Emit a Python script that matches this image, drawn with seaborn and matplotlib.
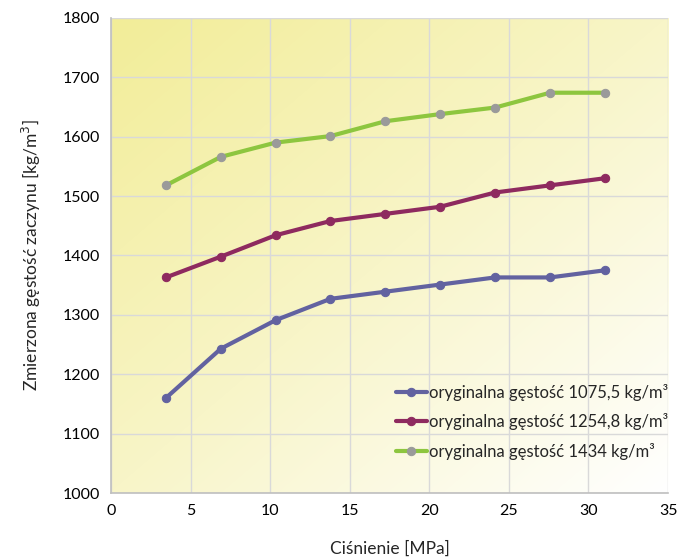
import numpy as np
import pandas as pd
import matplotlib
matplotlib.use("Agg")
import matplotlib.pyplot as plt
import seaborn as sns
from matplotlib.colors import LinearSegmentedColormap

pressure = [3.45, 6.9, 10.34, 13.79, 17.24, 20.68, 24.13, 27.58, 31.03]
dens_1075 = [1160, 1243, 1291, 1327, 1339, 1351, 1363, 1363, 1375]
dens_1254 = [1363, 1398, 1434, 1458, 1470, 1482, 1506, 1518, 1530]
dens_1434 = [1518, 1566, 1590, 1601, 1626, 1638, 1649, 1674, 1674]
labels = ["oryginalna gęstość 1075,5 kg/m³",
          "oryginalna gęstość 1254,8 kg/m³",
          "oryginalna gęstość 1434 kg/m³"]
colors = ["#6262a0", "#8e2a5f", "#8dc63f"]
marker_colors = ["#6262a0", "#8e2a5f", "#9a9a9a"]

df = pd.concat([
    pd.DataFrame({"x": pressure, "y": d, "s": lab})
    for d, lab in zip([dens_1075, dens_1254, dens_1434], labels)
])

sns.set_theme(style="white")
plt.rcParams['font.family'] = ['Lato', 'DejaVu Sans']

fig = plt.figure(figsize=(6.81, 5.59), dpi=100)
ax = fig.add_axes([0.163, 0.118, 0.818, 0.850])

# gradient background
n = 200
xx, yy = np.meshgrid(np.linspace(0, 1, n), np.linspace(0, 1, n))
t = np.clip((xx + yy) / 2.0, 0, 1)
cmap = LinearSegmentedColormap.from_list("bg", ["#f2ed98", "#f8f5c8", "#ffffff"])
ax.imshow(t, cmap=cmap, extent=[0, 35, 1000, 1800], aspect="auto",
          origin="upper", zorder=0, interpolation="bicubic")

for lab, c, mc in zip(labels, colors, marker_colors):
    sub = df[df["s"] == lab]
    sns.lineplot(data=sub, x="x", y="y", ax=ax, color=c, linewidth=3,
                 marker="o", markersize=6, markerfacecolor=mc,
                 markeredgecolor=mc, label=lab, zorder=3)

ax.set_xlim(0, 35)
ax.set_ylim(1000, 1800)
ax.set_xticks(range(0, 36, 5))
ax.set_yticks(range(1000, 1801, 100))
ax.grid(True, color="#d9d9d9", linewidth=1, zorder=1)
ax.set_axisbelow(True)
for s in ["top", "right"]:
    ax.spines[s].set_visible(False)
for s in ["left", "bottom"]:
    ax.spines[s].set_color("#bfbfbf")
    ax.spines[s].set_linewidth(1.2)
ax.tick_params(axis="both", labelsize=11.5, colors="#000000", length=0, pad=8)

ax.set_xlabel("Ciśnienie [MPa]", fontsize=12.5, labelpad=16)
ax.set_ylabel("Zmierzona gęstość zaczynu [kg/m$^3$]", fontsize=12.5, labelpad=14)

leg = ax.legend(loc="lower right", bbox_to_anchor=(1.0, 0.07), frameon=False,
                fontsize=12, handlelength=1.9, handletextpad=0.1,
                labelspacing=0.75, borderaxespad=0, borderpad=0)

fig.savefig("out.png", dpi=100)
